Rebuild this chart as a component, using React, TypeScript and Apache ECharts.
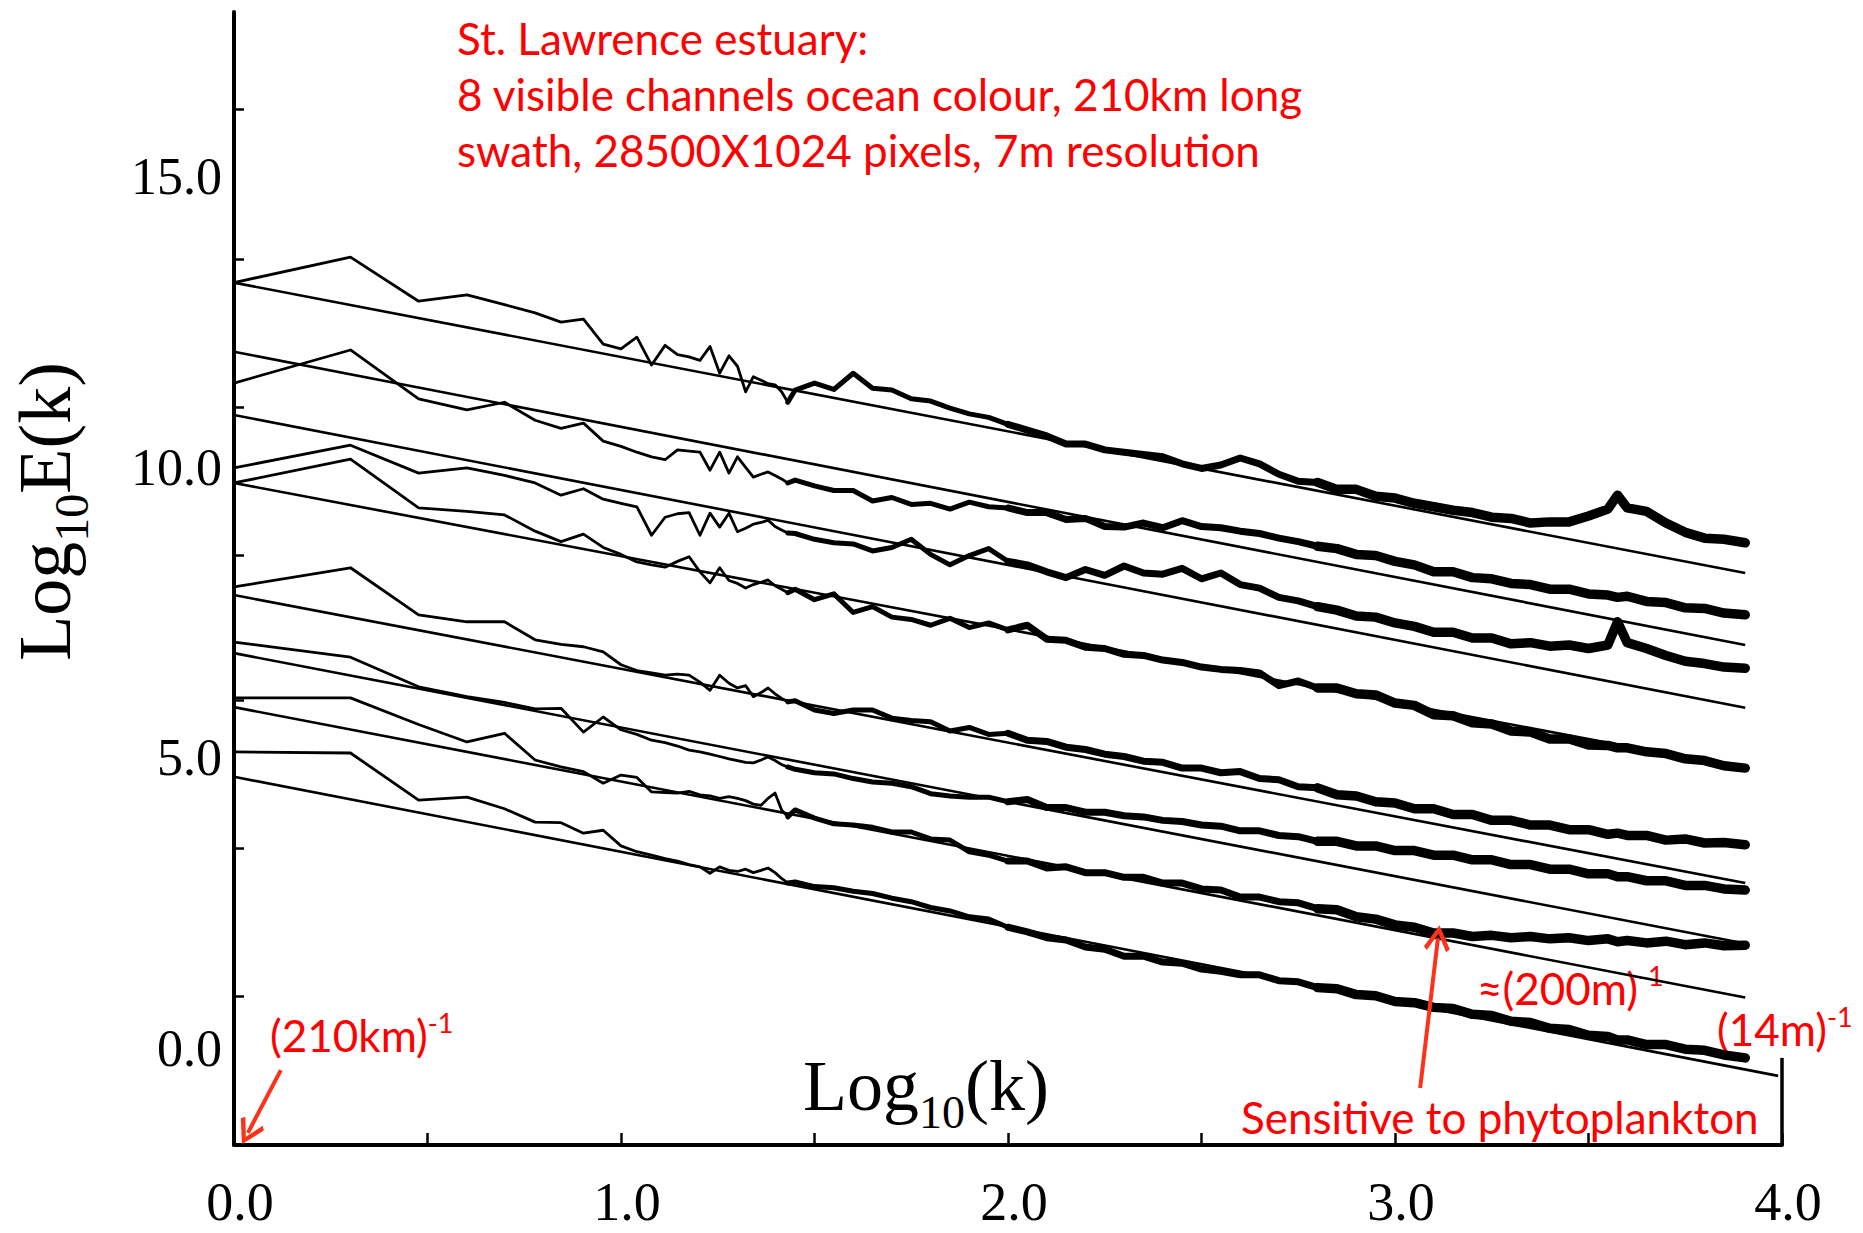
import React, { useEffect, useRef } from 'react';
import * as echarts from 'echarts';

// ---------- data (log10 wavenumber vs log10 spectral energy) ----------
// low wavenumbers: log10(k) for k = 1..27
const LOW_X = [0, 0.301, 0.477, 0.602, 0.699, 0.778, 0.845, 0.903, 0.954, 1.0, 1.041, 1.079, 1.114, 1.146, 1.176, 1.204, 1.23, 1.255, 1.279, 1.301, 1.322, 1.342, 1.362, 1.38, 1.398, 1.415, 1.431];
// high wavenumbers (noisy part)
const HIGH_X = [1.45, 1.5, 1.55, 1.6, 1.65, 1.7, 1.75, 1.8, 1.85, 1.9, 1.95, 2.0, 2.05, 2.1, 2.15, 2.2, 2.25, 2.3, 2.35, 2.4, 2.45, 2.5, 2.55, 2.6, 2.65, 2.7, 2.75, 2.8, 2.85, 2.9, 2.95, 3.0, 3.05, 3.1, 3.15, 3.2, 3.25, 3.3, 3.35, 3.4, 3.45, 3.5, 3.55, 3.575, 3.6, 3.65, 3.7, 3.75, 3.8, 3.85, 3.905];

const A_LOW = [13.18, 13.62, 12.86, 12.97, 12.8, 12.66, 12.5, 12.55, 12.12, 12.04, 12.24, 11.76, 12.1, 11.94, 11.9, 11.84, 12.08, 11.62, 11.92, 11.74, 11.3, 11.56, 11.5, 11.44, 11.42, 11.3, 11.12];
const A_HIGH = [11.33, 11.45, 11.34, 11.62, 11.36, 11.33, 11.18, 11.14, 11.02, 10.92, 10.86, 10.74, 10.64, 10.54, 10.4, 10.4, 10.3, 10.26, 10.22, 10.18, 10.06, 9.98, 10.04, 10.16, 10.06, 9.88, 9.76, 9.74, 9.62, 9.62, 9.5, 9.47, 9.38, 9.32, 9.26, 9.22, 9.14, 9.12, 9.04, 9.06, 9.06, 9.16, 9.28, 9.52, 9.3, 9.24, 9.04, 8.88, 8.78, 8.76, 8.7];

const B_LOW = [11.45, 12.02, 11.18, 10.99, 11.12, 10.81, 10.67, 10.76, 10.45, 10.36, 10.26, 10.18, 10.13, 10.3, 10.28, 10.26, 9.95, 10.26, 9.9, 10.18, 10.0, 9.83, 9.88, 9.92, 9.86, 9.8, 9.73];
const B_HIGH = [9.78, 9.68, 9.6, 9.6, 9.42, 9.48, 9.36, 9.38, 9.28, 9.4, 9.32, 9.3, 9.22, 9.22, 9.1, 9.12, 8.98, 8.97, 9.04, 8.96, 9.08, 8.98, 8.96, 8.9, 8.86, 8.78, 8.72, 8.64, 8.6, 8.5, 8.48, 8.38, 8.32, 8.2, 8.2, 8.1, 8.08, 8.0, 7.98, 7.9, 7.9, 7.82, 7.8, 7.76, 7.78, 7.69, 7.67, 7.58, 7.57, 7.49, 7.46];

const C_LOW = [9.99, 10.38, 9.9, 9.99, 9.86, 9.73, 9.52, 9.63, 9.45, 9.38, 9.32, 8.83, 9.14, 9.2, 9.22, 8.83, 9.21, 8.97, 9.21, 8.89, 8.95, 9.02, 9.05, 9.09, 8.98, 8.92, 8.87];
const C_HIGH = [8.86, 8.76, 8.7, 8.68, 8.56, 8.62, 8.76, 8.5, 8.32, 8.48, 8.6, 8.38, 8.32, 8.2, 8.1, 8.24, 8.14, 8.3, 8.18, 8.16, 8.26, 8.08, 8.18, 7.98, 7.92, 7.76, 7.7, 7.6, 7.54, 7.44, 7.42, 7.32, 7.26, 7.16, 7.16, 7.06, 7.06, 6.96, 6.98, 6.92, 6.94, 6.88, 6.94, 7.34, 6.98, 6.88, 6.76, 6.66, 6.62, 6.56, 6.54];

const D_LOW = [9.73, 10.14, 9.3, 9.24, 9.18, 8.9, 8.72, 8.85, 8.62, 8.5, 8.37, 8.32, 8.28, 8.38, 8.46, 8.2, 8.01, 8.27, 8.05, 8.0, 7.92, 7.98, 8.02, 8.06, 7.96, 7.9, 7.84];
const D_HIGH = [7.9, 7.72, 7.82, 7.5, 7.6, 7.42, 7.38, 7.28, 7.4, 7.24, 7.32, 7.2, 7.28, 7.04, 7.02, 6.9, 6.88, 6.78, 6.76, 6.68, 6.64, 6.56, 6.52, 6.5, 6.46, 6.24, 6.32, 6.2, 6.2, 6.1, 6.08, 5.94, 5.9, 5.74, 5.72, 5.6, 5.58, 5.46, 5.44, 5.32, 5.32, 5.22, 5.21, 5.17, 5.17, 5.1, 5.07, 4.98, 4.95, 4.86, 4.82];

const E_LOW = [7.94, 8.27, 7.46, 7.34, 7.34, 7.03, 6.95, 6.91, 6.82, 6.6, 6.5, 6.46, 6.42, 6.44, 6.42, 6.3, 6.16, 6.42, 6.28, 6.2, 6.24, 6.05, 6.12, 6.2, 6.1, 6.02, 5.96];
const E_HIGH = [5.98, 5.82, 5.76, 5.82, 5.82, 5.68, 5.64, 5.62, 5.46, 5.52, 5.4, 5.42, 5.3, 5.28, 5.18, 5.14, 5.06, 5.02, 4.94, 4.92, 4.82, 4.82, 4.74, 4.76, 4.64, 4.62, 4.5, 4.48, 4.36, 4.34, 4.24, 4.22, 4.12, 4.12, 4.02, 4.02, 3.92, 3.92, 3.84, 3.84, 3.76, 3.76, 3.68, 3.7, 3.66, 3.66, 3.58, 3.6, 3.53, 3.54, 3.5];

const F_LOW = [6.99, 6.73, 6.22, 6.05, 5.95, 5.84, 5.85, 5.44, 5.7, 5.48, 5.4, 5.3, 5.26, 5.2, 5.13, 5.1, 5.06, 5.02, 4.98, 4.95, 4.92, 4.91, 4.96, 5.01, 4.95, 4.88, 4.84];
const F_HIGH = [4.8, 4.74, 4.72, 4.64, 4.58, 4.56, 4.5, 4.38, 4.34, 4.32, 4.32, 4.24, 4.28, 4.14, 4.14, 4.06, 4.06, 4.0, 3.98, 3.92, 3.9, 3.84, 3.82, 3.74, 3.74, 3.66, 3.64, 3.56, 3.56, 3.48, 3.48, 3.4, 3.4, 3.32, 3.32, 3.24, 3.24, 3.16, 3.16, 3.08, 3.08, 3.0, 3.0, 2.95, 2.95, 2.88, 2.88, 2.8, 2.8, 2.74, 2.72];

const G_LOW = [6.03, 6.03, 5.57, 5.27, 5.42, 4.96, 4.84, 4.76, 4.56, 4.7, 4.66, 4.41, 4.4, 4.39, 4.42, 4.36, 4.34, 4.3, 4.33, 4.3, 4.26, 4.2, 4.18, 4.3, 4.39, 4.1, 3.98];
const G_HIGH = [4.1, 3.96, 3.86, 3.84, 3.8, 3.72, 3.72, 3.6, 3.58, 3.38, 3.32, 3.22, 3.22, 3.1, 3.12, 3.02, 3.02, 2.94, 2.94, 2.84, 2.84, 2.74, 2.72, 2.6, 2.6, 2.52, 2.5, 2.4, 2.38, 2.26, 2.22, 2.12, 2.08, 1.98, 1.98, 1.92, 1.94, 1.9, 1.92, 1.88, 1.9, 1.85, 1.88, 1.83, 1.85, 1.81, 1.84, 1.78, 1.81, 1.76, 1.77];

const H_LOW = [5.1, 5.08, 4.27, 4.32, 4.12, 3.89, 3.88, 3.7, 3.75, 3.48, 3.38, 3.32, 3.26, 3.22, 3.16, 3.12, 3.01, 3.12, 3.06, 3.04, 3.08, 3.02, 3.06, 3.1, 3.02, 2.92, 2.84];
const H_HIGH = [2.86, 2.78, 2.76, 2.7, 2.66, 2.58, 2.52, 2.42, 2.36, 2.26, 2.22, 2.08, 2.0, 1.9, 1.86, 1.74, 1.7, 1.58, 1.58, 1.48, 1.46, 1.36, 1.32, 1.26, 1.26, 1.16, 1.14, 1.04, 1.02, 0.92, 0.9, 0.8, 0.78, 0.7, 0.68, 0.58, 0.56, 0.46, 0.44, 0.34, 0.32, 0.22, 0.2, 0.14, 0.14, 0.06, 0.06, -0.02, -0.04, -0.12, -0.17];

// straight-line fits: value at k = (210km)^-1 and at the high-k end
const FIT_START = [13.18, 11.99, 10.9, 9.73, 7.8, 6.8, 5.87, 4.67];
const FIT_END = [8.18, 6.94, 5.86, 4.81, 2.84, 1.8, 0.87, -0.48];
const FIT_END_X = [3.905, 3.905, 3.905, 3.905, 3.905, 3.905, 3.905, 3.99];

// axes
const X_LABELS = [0, 1, 2, 3, 4];
const Y_LABELS = [0, 5, 10, 15];
const Y_TICKS = [0.9, 3.44, 5.98, 8.49, 11.04, 13.59, 16.17];

// annotation arrows (data coordinates)
const ARROW_210KM = [[0.121, -0.38], [0.036, -1.46]];
const ARROW_PHYTO = [[3.065, -0.69], [3.111, 1.89]];
const RIGHT_EDGE = [[4, -1.67], [4, -0.17]];

const SPECTRA = [
  [A_LOW, A_HIGH], [B_LOW, B_HIGH], [C_LOW, C_HIGH], [D_LOW, D_HIGH],
  [E_LOW, E_HIGH], [F_LOW, F_HIGH], [G_LOW, G_HIGH], [H_LOW, H_HIGH],
];

const RED = '#ff0000';
const ARROW_RED = '#ff3119';
const SERIF = '"Liberation Serif", "Times New Roman", serif';
const SANS = 'Lato, "Noto Sans", sans-serif';
const CHEVRON = 'path://M12,0 L24,16 L21,18.5 L12,6 L3,18.5 L0,16 Z';

function zip(xs: number[], ys: number[]) {
  return xs.map((x, i) => [x, ys[i]]);
}

function buildSeries() {
  const series: any[] = [];
  const base = {
    type: 'line',
    showSymbol: false,
    symbol: 'none',
    silent: true,
    animation: false,
    emphasis: { disabled: true },
  };
  SPECTRA.forEach(([low, high], i) => {
    const lowPts = zip(LOW_X, low);
    const highPts = zip(HIGH_X, high);
    const seg1 = [lowPts[lowPts.length - 1], ...highPts.filter((p) => p[0] <= 2.0)];
    const seg2 = highPts.filter((p) => p[0] >= 2.0 && p[0] <= 2.8);
    const seg3 = highPts.filter((p) => p[0] >= 2.8);
    series.push({ ...base, name: 'spec' + i + 'low', data: lowPts, lineStyle: { color: '#000', width: 2.8, join: 'round' } });
    series.push({ ...base, name: 'spec' + i + 'a', data: seg1, lineStyle: { color: '#000', width: 5, join: 'round', cap: 'round' } });
    series.push({ ...base, name: 'spec' + i + 'b', data: seg2, lineStyle: { color: '#000', width: 7, join: 'round', cap: 'round' } });
    series.push({ ...base, name: 'spec' + i + 'c', data: seg3, lineStyle: { color: '#000', width: 9.5, join: 'round', cap: 'round' } });
  });
  FIT_START.forEach((y0, i) => {
    const s: any = {
      ...base,
      name: 'fit' + i,
      data: [[0, y0], [FIT_END_X[i], FIT_END[i]]],
      lineStyle: { color: '#000', width: 2.6 },
    };
    if (i === 7) {
      s.markLine = {
        silent: true,
        animation: false,
        symbol: ['none', CHEVRON],
        symbolSize: 26,
        label: { show: false },
        lineStyle: { color: ARROW_RED, width: 4, type: 'solid' },
        emphasis: { disabled: true },
        data: [
          [{ coord: ARROW_210KM[0] }, { coord: ARROW_210KM[1] }],
          [{ coord: ARROW_PHYTO[0] }, { coord: ARROW_PHYTO[1] }],
        ],
      };
    }
    if (i === 6) {
      s.markLine = {
        silent: true,
        animation: false,
        symbol: ['none', 'none'],
        label: { show: false },
        lineStyle: { color: '#000', width: 3.5, type: 'solid' },
        emphasis: { disabled: true },
        data: [[{ coord: RIGHT_EDGE[0] }, { coord: RIGHT_EDGE[1] }]],
      };
    }
    series.push(s);
  });
  return series;
}

const titleRich = (size: number, subSize: number, subPad: number) => ({
  a: { fontFamily: SERIF, fontSize: size, color: '#000' },
  s: { fontFamily: SERIF, fontSize: subSize, color: '#000', padding: [subPad, 0, 0, 0] },
});

function redText(x: number, y: number, main: string, sup?: string, size = 44) {
  const rich: any = {
    m: { fontFamily: SANS, fontSize: size, fill: RED },
    s: { fontFamily: SANS, fontSize: Math.round(size * 0.62), fill: RED, padding: [0, 0, 26, 0] },
  };
  return {
    type: 'text',
    x,
    y,
    silent: true,
    style: {
      text: sup ? `{m|${main}}{s|${sup}}` : `{m|${main}}`,
      rich,
      fill: RED,
      font: `${size}px ${SANS}`,
      align: 'left',
      verticalAlign: 'middle',
    },
  };
}

export default function App() {
  const ref = useRef<HTMLDivElement>(null);
  useEffect(() => {
    if (!ref.current) return;
    const chart = echarts.init(ref.current, null, { renderer: 'svg' });
    const option: any = {
      animation: false,
      backgroundColor: '#fff',
      textStyle: { fontFamily: SERIF },
      grid: { left: 234, right: 81, top: 12, bottom: 88 },
      xAxis: {
        type: 'value',
        min: 0,
        max: 4,
        interval: 0.5,
        name: '{a|Log}{s|10}{a|(k)}',
        nameLocation: 'middle',
        nameGap: -108,
        nameTextStyle: { padding: [0, 164, 0, 0], rich: titleRich(72, 46, 52) },
        axisLine: { show: true, onZero: false, lineStyle: { color: '#000', width: 4 } },
        axisTick: { show: true, inside: true, length: 12, lineStyle: { color: '#000', width: 2.5 } },
        axisLabel: {
          customValues: X_LABELS,
          formatter: (v: number) => (Number.isInteger(v) ? v.toFixed(1) : ''),
          fontFamily: SERIF,
          fontSize: 54,
          color: '#000',
          margin: 30,
          padding: [0, 0, 0, 12],
        },
        splitLine: { show: false },
      },
      yAxis: {
        type: 'value',
        min: -1.67,
        max: 17.84,
        name: '{a|Log}{s|10}{a|E(k)}',
        nameLocation: 'middle',
        nameRotate: 90,
        nameGap: 139,
        nameTextStyle: { padding: [0, 0, 0, 134], rich: titleRich(74, 48, 52) },
        axisLine: { show: true, onZero: false, lineStyle: { color: '#000', width: 4 } },
        axisTick: { show: true, inside: true, length: 10, customValues: Y_TICKS, lineStyle: { color: '#000', width: 2.5 } },
        axisLabel: {
          customValues: Y_LABELS,
          formatter: (v: number) => v.toFixed(1),
          fontFamily: SERIF,
          fontSize: 52,
          color: '#000',
          margin: 12,
        },
        splitLine: { show: false },
      },
      graphic: [
        redText(457, 38, 'St. Lawrence estuary:'),
        redText(457, 94, '8 visible channels ocean colour, 210km long'),
        redText(457, 150, 'swath, 28500X1024 pixels, 7m resolution'),
        redText(270, 1035, '(210km)', '-1'),
        redText(1477, 988, '≈(200m)', '-1'),
        redText(1717, 1029, '(14m)', '-1'),
        redText(1241, 1117, 'Sensitive to phytoplankton'),
      ],
      series: buildSeries(),
    };
    chart.setOption(option);
    return () => chart.dispose();
  }, []);
  return (
    <div
      ref={ref}
      style={{ position: 'absolute', left: 0, top: 0, width: 1863, height: 1233, background: '#fff' }}
    />
  );
}
